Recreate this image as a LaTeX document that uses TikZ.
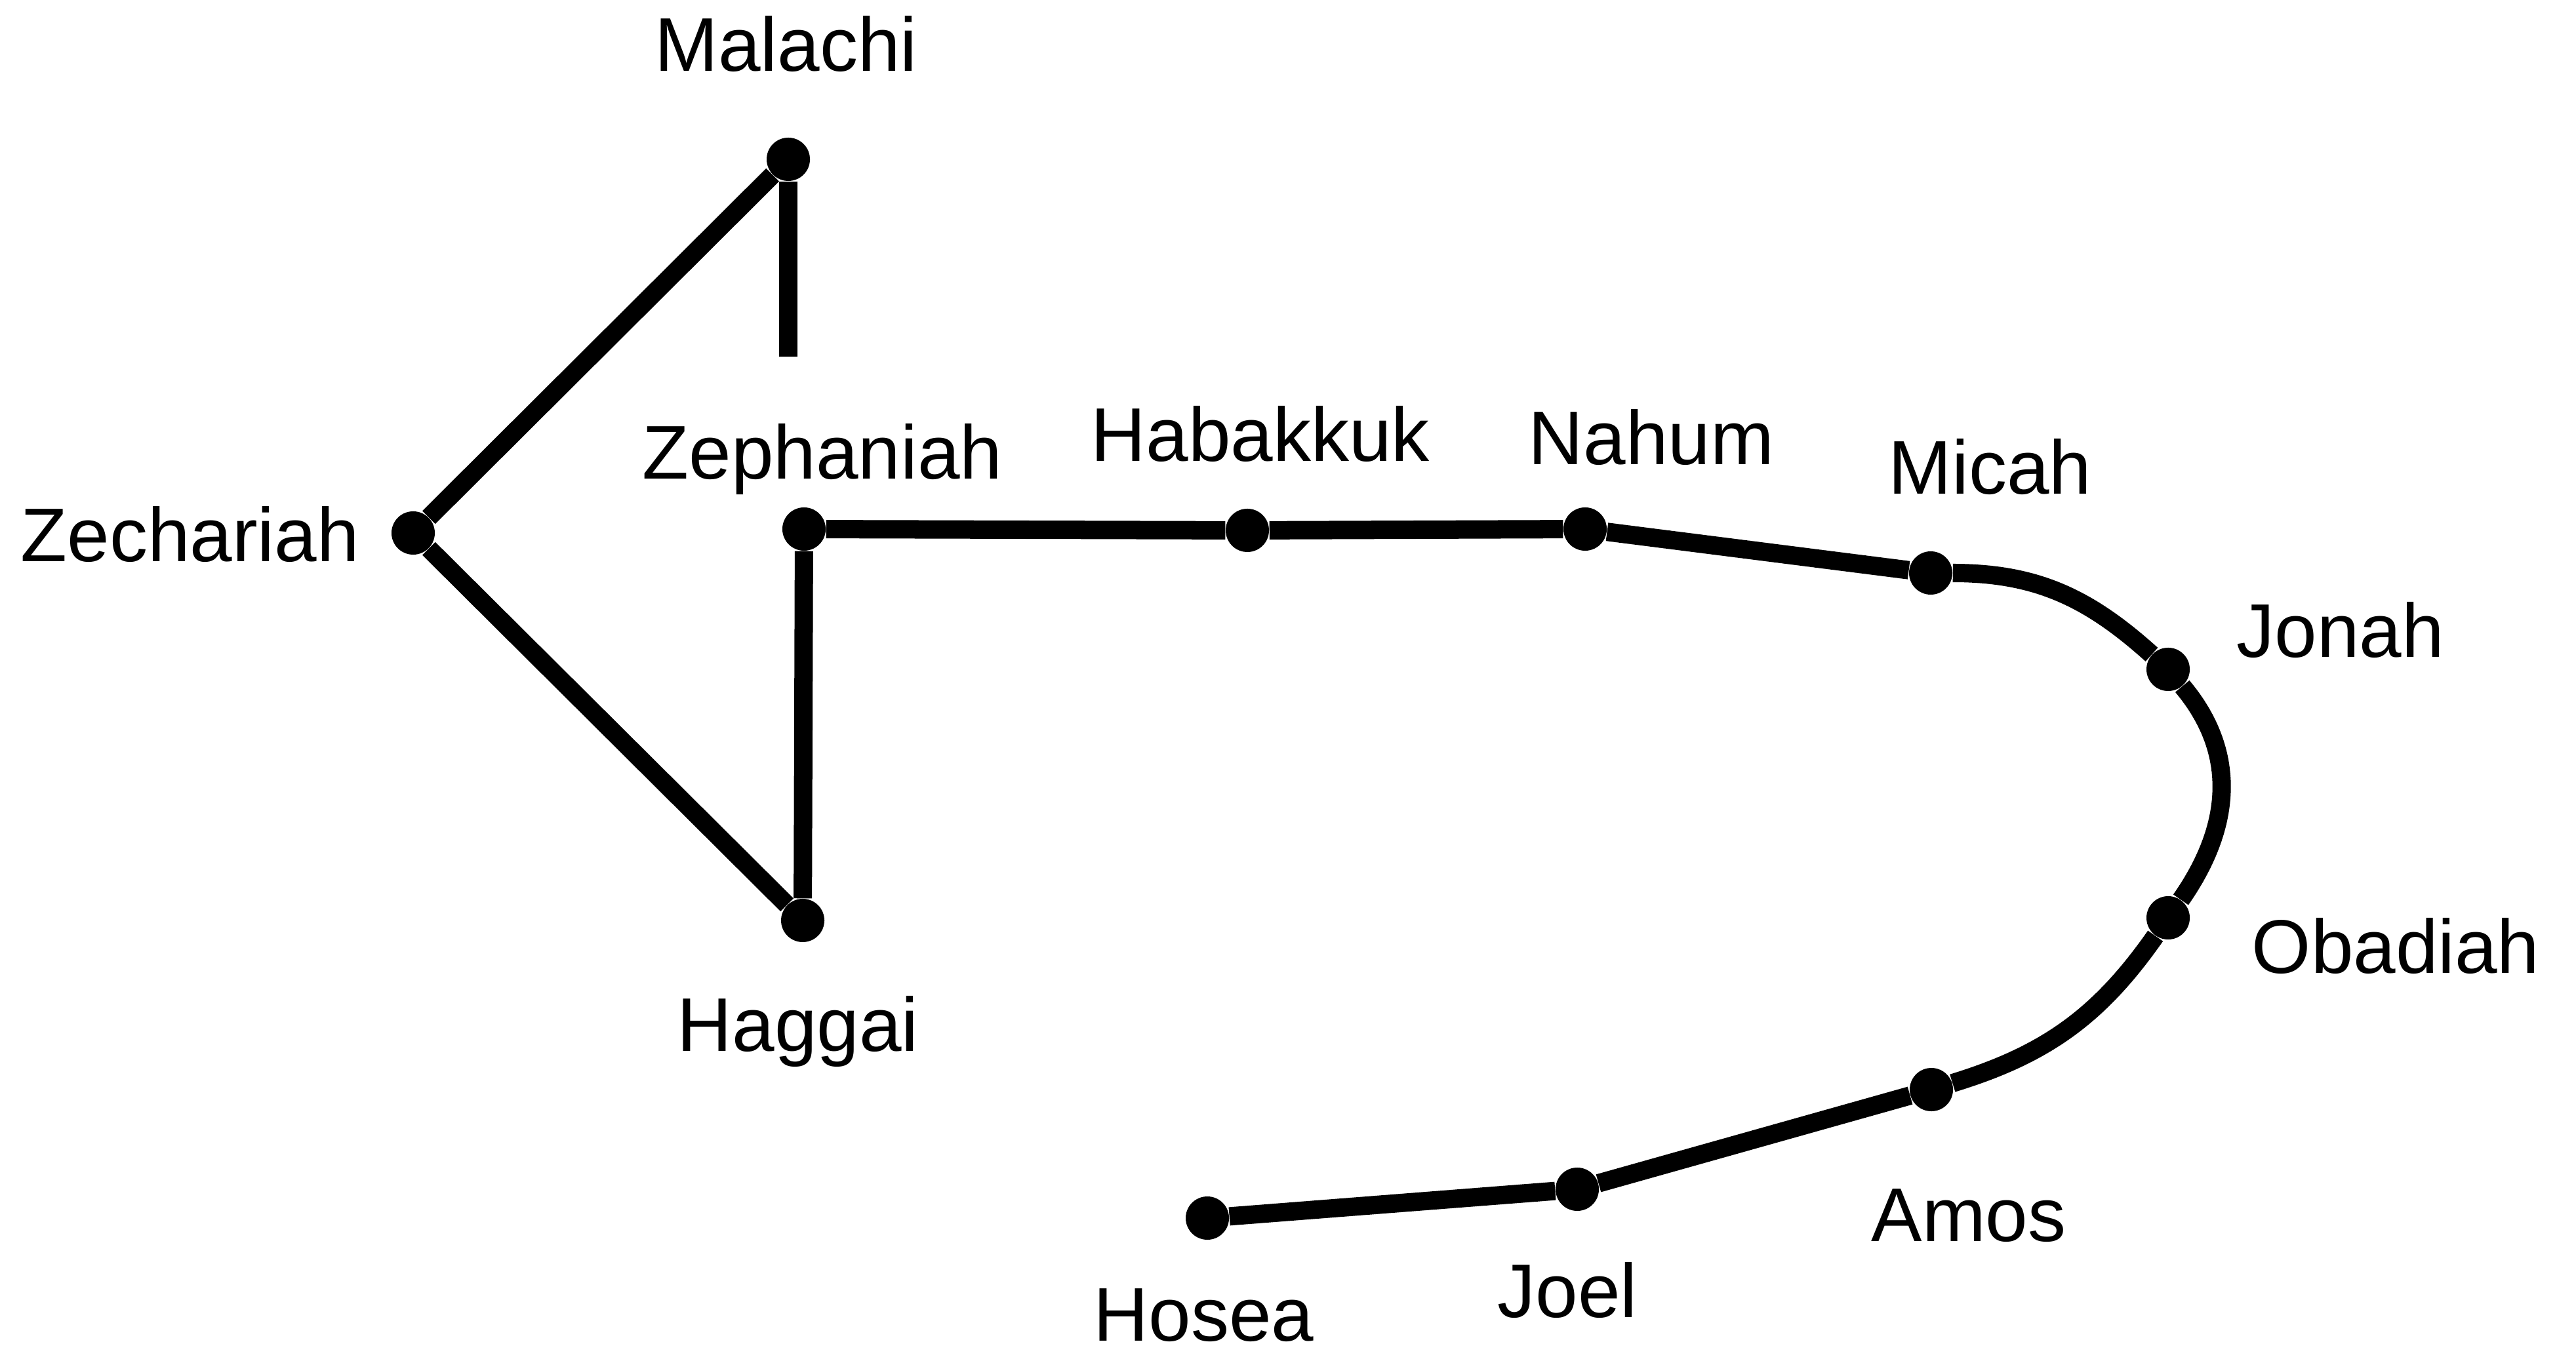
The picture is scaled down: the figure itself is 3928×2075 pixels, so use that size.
\documentclass[tikz,border=0pt]{standalone}
\usepackage{fontspec}
\setmainfont{Liberation Sans}
\begin{document}
\begin{tikzpicture}[x=0.01cm,y=0.01cm,
  dot/.style={circle,fill=black,inner sep=0pt,minimum size=0.66cm},
  link/.style={line width=0.28cm,draw=black},
  lbl/.style={anchor=base west,inner sep=0pt,font=\fontsize{33}{40}\selectfont}]
\useasboundingbox (0,0) rectangle (3928,2075);
% dots
\node[dot] (mal) at (1202,1832) {};
\coordinate (stub) at (1202,1531);
\node[dot] (zec) at (630,1262) {};
\node[dot] (zep) at (1226,1268) {};
\node[dot] (hag) at (1224,671) {};
\node[dot] (hab) at (1902,1266) {};
\node[dot] (nah) at (2417,1268) {};
\node[dot] (mic) at (2944,1201) {};
\node[dot] (jon) at (3306,1054) {};
\node[dot] (oba) at (3306,675) {};
\node[dot] (amo) at (2945,413) {};
\node[dot] (joe) at (2405,261) {};
\node[dot] (hos) at (1841,217) {};
% labels
\node[lbl] (lmal) at (998,1966) {Malachi};
\node[lbl] (lzec) at (31,1218) {Zechariah};
\node[lbl] (lzep) at (979,1344) {Zephaniah};
\node[lbl] (lhab) at (1663,1371) {Habakkuk};
\node[lbl] (lnah) at (2330,1366) {Nahum};
\node[lbl] (lmic) at (2879,1321) {Micah};
\node[lbl] (ljon) at (3410,1072) {Jonah};
\node[lbl] (loba) at (3433,591) {Obadiah};
\node[lbl] (lhag) at (1032,472) {Haggai};
\node[lbl] (lamo) at (2853,182) {Amos};
\node[lbl] (ljoe) at (2283,66) {Joel};
\node[lbl] (lhos) at (1667,30) {Hosea};
% connectors
\draw[link] (hos) -- (joe);
\draw[link] (joe) -- (amo);
\draw[link] (amo) to[out=17,in=-125] (oba);
\draw[link] (oba) to[out=55,in=-50,looseness=1.05] (jon);
\draw[link] (jon) to[out=138,in=0] (mic);
\draw[link] (mic) -- (nah);
\draw[link] (nah) -- (hab);
\draw[link] (hab) -- (zep);
\draw[link] (zep) -- (hag);
\draw[link] (hag) -- (zec);
\draw[link] (zec) -- (mal);
\draw[link] (mal) -- (stub);
\end{tikzpicture}
\end{document}
